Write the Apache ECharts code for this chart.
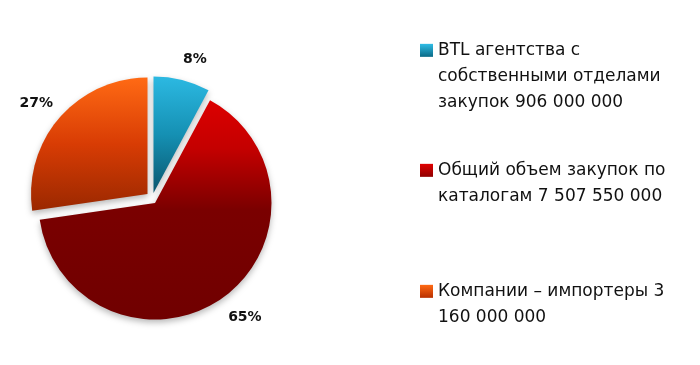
<!DOCTYPE html>
<html>
<head>
<meta charset="utf-8">
<script src="https://cdn.jsdelivr.net/npm/echarts@6/dist/echarts.min.js"></script>
<style>
  html, body { margin: 0; padding: 0; background: #ffffff; }
  #chart { width: 700px; height: 365px; }
</style>
</head>
<body>
<div id="chart"></div>
<script>
// ---- Data ----
const categories = [
  'BTL агентства с\nсобственными отделами\nзакупок 906 000 000',
  'Общий объем закупок по\nкаталогам 7 507 550 000',
  'Компании – импортеры 3\n160 000 000'
];
const values = [906000000, 7507550000, 3160000000];

// ---- Styles ----
function grad(stops) {
  return new echarts.graphic.LinearGradient(0, 0, 0, 1,
    stops.map(s => ({ offset: s[0], color: s[1] })));
}
const sliceColors = [
  grad([[0, '#2cb9e2'], [0.5, '#1590b3'], [1, '#0a566e']]),
  grad([[0, '#dc0000'], [0.22, '#c40000'], [0.5, '#7a0000'], [1, '#700000']]),
  grad([[0, '#ff6a14'], [0.5, '#d83c04'], [1, '#9a2800']])
];
const legendColors = [
  grad([[0, '#30bde6'], [1, '#0a6a86']]),
  grad([[0, '#e00000'], [1, '#900000']]),
  grad([[0, '#ff6a14'], [1, '#b83000']])
];
// per-slice geometry (each slice drawn in its own pie layer to reproduce the exploded layout)
const centers = [[153.5, 193], [155, 203], [147.5, 194]];
const labelLen = [21, 23, 22.3];
const labelShift = [-4, -7, 10.5];
const lineH = 26.3;
const legendTops = [-15.4, 130.9, 251.9];

const series = values.map((_, i) => ({
  type: 'pie',
  center: centers[i],
  radius: [0, 116.5],
  startAngle: 90,
  clockwise: true,
  avoidLabelOverlap: false,
  silent: true,
  emphasis: { disabled: true },
  animation: false,
  label: {
    position: 'outside',
    fontFamily: 'DejaVu Sans',
    fontWeight: 'bold',
    fontSize: 14,
    color: '#111111',
    distanceToLabelLine: 0,
    formatter: p => Math.round(p.percent) + '%'
  },
  labelLine: { show: false, length: labelLen[i], length2: 0 },
  labelLayout: { dx: labelShift[i] },
  data: values.map((v, j) => ({
    value: v,
    name: categories[j],
    itemStyle: j === i
      ? { color: sliceColors[j], borderWidth: 0, shadowBlur: 6, shadowOffsetY: 3, shadowColor: 'rgba(0,0,0,0.28)' }
      : { color: 'rgba(0,0,0,0)', borderWidth: 0, shadowBlur: 0, shadowColor: 'rgba(0,0,0,0)' },
    label: { show: j === i }
  }))
}));

const legends = categories.map((name, i) => {
  const n = name.split('\n').length;
  return {
    orient: 'vertical',
    left: 420,
    top: legendTops[i],
    padding: 0,
    selectedMode: false,
    icon: 'rect',
    itemWidth: 13,
    itemHeight: 13,
    formatter: nm => nm.split('\n').map(s => '{t|' + s + '}').join('\n'),
    textStyle: {
      fontFamily: 'DejaVu Sans',
      fontSize: 17,
      color: '#111111',
      lineHeight: lineH,
      padding: [(n - 1) * lineH, 0, 0, 0],
      rich: {
        t: {
          fontFamily: 'DejaVu Sans',
          fontSize: 17,
          color: '#111111',
          lineHeight: lineH
        }
      }
    },
    data: [{ name: name, itemStyle: { color: legendColors[i], borderWidth: 0 } }]
  };
});

const chart = echarts.init(document.getElementById('chart'), null, { renderer: 'canvas' });
chart.setOption({
  backgroundColor: '#ffffff',
  animation: false,
  legend: legends,
  series: series
});
</script>
</body>
</html>
